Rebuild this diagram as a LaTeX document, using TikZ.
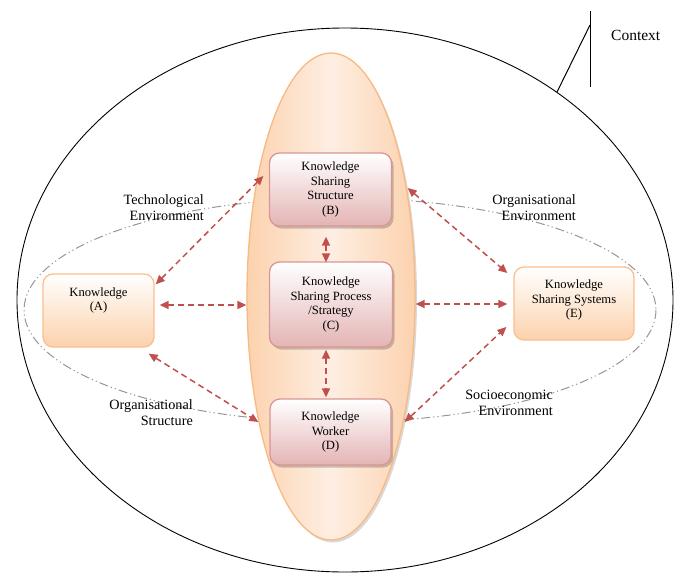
\documentclass[tikz,border=0pt]{standalone}
\usepackage{fontspec}
\setmainfont{Liberation Serif}
\usetikzlibrary{arrows.meta,shadows,shapes.geometric}
\definecolor{arrred}{RGB}{192,80,77}
\definecolor{pinkborder}{RGB}{217,150,148}
\definecolor{pinkfill}{RGB}{228,180,180}
\definecolor{orgborder}{RGB}{250,191,143}
\definecolor{orgfill}{RGB}{252,210,172}
\definecolor{peach}{RGB}{252,210,174}
\definecolor{peachlight}{RGB}{254,238,226}
\definecolor{peachborder}{RGB}{248,185,130}
\definecolor{envgray}{RGB}{150,150,150}
\tikzset{
  boxfont/.style={font=\fontsize{12.6}{14.5}\selectfont},
  pinkbox/.style={draw=pinkborder, line width=1.3pt, rounded corners=10pt,
    top color=white, bottom color=pinkfill, align=center, inner sep=0pt, boxfont,
    drop shadow={shadow xshift=2pt, shadow yshift=-2.5pt, opacity=.3, fill=black!70}},
  orgbox/.style={draw=orgborder, line width=1.3pt, rounded corners=10pt,
    top color=white, bottom color=orgfill, align=center, inner sep=0pt, boxfont},
  envlabel/.style={align=right, inner sep=0pt, font=\fontsize{14.2}{16}\selectfont},
  envline/.style={draw=envgray, line width=1pt,
    dash pattern=on 9pt off 3pt on 1.2pt off 3pt on 1.2pt off 3pt},
  darr/.style={draw=arrred, line width=1.5pt, dash pattern=on 6pt off 4pt,
    {Triangle[length=9pt,width=8pt]}-{Triangle[length=9pt,width=8pt]}}
}
\begin{document}
\begin{tikzpicture}[x=1pt,y=-1pt]
\useasboundingbox (0,0) rectangle (674,573);
% outer context ellipse
\draw[line width=0.9pt] (345,300) ellipse [x radius=328, y radius=272];
\coordinate (ctxtop) at (590,11);
\coordinate (ctxbot) at (590,87);
\coordinate (ctxjoin) at (590,25);
\coordinate (ctxend) at (557,92);
\draw[line width=1pt] (ctxtop) -- (ctxbot);
\draw[line width=1pt] (ctxjoin) -- (ctxend);
\node[anchor=west, inner sep=0pt, font=\fontsize{15.5}{18}\selectfont] (context) at (611,35) {Context};
% environment ellipse
\draw[envline] (340,310) ellipse [x radius=316, y radius=112];
% central ellipse
\path[draw=peachborder, line width=1.3pt, left color=peach, right color=peach, middle color=peachlight,
  drop shadow={shadow xshift=2pt, shadow yshift=-2.5pt, opacity=.25, fill=black!60}]
  (331,296.5) ellipse [x radius=84, y radius=243.5];
% boxes
\node[orgbox, minimum width=111pt, minimum height=73pt] (A) at (98.5,310.5) {Knowledge\\(A)\\[8pt]~};
\node[pinkbox, minimum width=122pt, minimum height=73pt] (B) at (330.5,189.5) {Knowledge\\Sharing\\Structure\\(B)};
\node[pinkbox, minimum width=123pt, minimum height=85pt] (C) at (331,304.5) {Knowledge\\Sharing Process\\/Strategy\\(C)};
\node[pinkbox, minimum width=121pt, minimum height=66pt] (D) at (330.5,432) {Knowledge\\Worker\\(D)};
\node[orgbox, minimum width=120pt, minimum height=73pt] (E) at (574,303.5) {Knowledge\\Sharing Systems\\(E)\\[-5.5pt]~};
% labels
\node[envlabel, anchor=east] (tech) at (204,208) {Technological\\Environment};
\node[envlabel, anchor=east] (orgs) at (193,413) {Organisational\\Structure};
\node[envlabel, anchor=east] (orge) at (576,208) {Organisational\\Environment};
\node[envlabel, anchor=east] (soc) at (553,403) {Socioeconomic\\Environment};
% arrows
\draw[darr] ([shift={(1,11)}]A.north east) -- ([shift={(-5.5,-13.5)}]B.west);
\draw[darr] ([shift={(5,-5.5)}]A.east) -- ([shift={(-22.5,0.5)}]C.west);
\draw[darr] ([shift={(-6,6)}]A.south east) -- ([shift={(-11,-10)}]D.west);
\draw[darr] ([shift={(-4.5,10)}]B.south) -- ([shift={(-5,1)}]C.north);
\draw[darr] ([shift={(-5,2)}]C.south) -- ([shift={(-4.5,-1)}]D.north);
\draw[darr] ([shift={(15.5,-1.5)}]B.east) -- ([shift={(-6,-30.5)}]E.west);
\draw[darr] ([shift={(22.5,-0.5)}]C.east) -- ([shift={(-6,0.5)}]E.west);
\draw[darr] ([shift={(13,-10)}]D.east) -- ([shift={(-7,23.5)}]E.west);
\end{tikzpicture}
\end{document}
